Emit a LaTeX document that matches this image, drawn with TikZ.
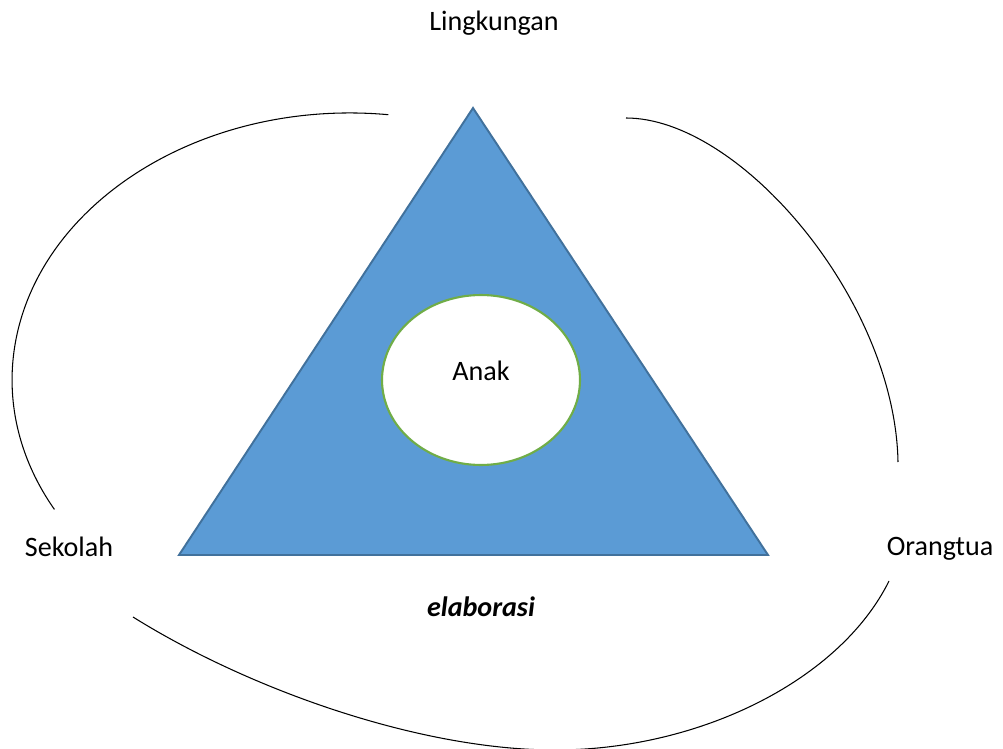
\documentclass[tikz,border=0pt]{standalone}
\usepackage{fontspec}
\setmainfont{Carlito}
\usetikzlibrary{shapes.geometric}
\definecolor{triblue}{HTML}{5B9BD5}
\definecolor{triedge}{HTML}{41719C}
\definecolor{ringgreen}{HTML}{70AD47}

\begin{document}
\begin{tikzpicture}[x=0.02cm, y=-0.02cm, font=\fontsize{16}{19}\selectfont,
  label/.style={anchor=base, inner sep=0pt},
  loop/.style={black, line width=0.6pt}]
\useasboundingbox (0,0) rectangle (1003,749);

\coordinate (top) at (473,108);
\coordinate (left) at (179,555);
\coordinate (right) at (768,555);
\filldraw[fill=triblue, draw=triedge, line width=1.1pt, line join=miter] (top) -- (left) -- (right) -- cycle;

\node[ellipse, draw=ringgreen, fill=white, line width=1.2pt, inner sep=0pt,
  minimum width=3.96cm, minimum height=3.4cm] (kid) at (481,380) {};
\node[label] (anak) at (481,380) {Anak};

\node[label] (env) at (494,31) {Lingkungan};
\node[label] (school) at (69,556) {Sekolah};
\node[label] (parent) at (940,555) {Orangtua};
\node[label, font=\fontsize{16}{19}\selectfont\bfseries\itshape] (elab) at (481,616) {elaborasi};

% the three loops round the triangle
\draw[loop] (388.3,114.7) arc[start angle=-83.5, end angle=-209, x radius=338, y radius=267];
\draw[loop] (626,118) .. controls (740,118) and (895,300) .. (898,462);
\draw[loop] (133,617) .. controls (250,690) and (420,750) .. (555,750)
  .. controls (700,750) and (840,680) .. (889,581);

\end{tikzpicture}
\end{document}
